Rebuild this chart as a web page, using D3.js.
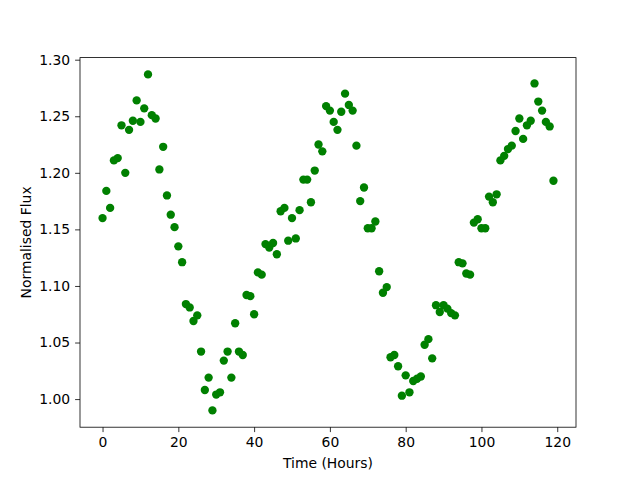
<!DOCTYPE html>
<html>
<head>
<meta charset="utf-8">
<script src="https://cdn.jsdelivr.net/npm/d3@7"></script>
<style>
  body { margin: 0; background: #fff; }
  svg text { font-family: "DejaVu Sans", sans-serif; font-size: 13.9px; fill: #000; }
</style>
</head>
<body>
<script>
// light curve readings, one per hour
const hours = d3.range(0, 120);
const flux = [
  1.160, 1.184, 1.169, 1.211, 1.213, 1.242, 1.200, 1.238, 1.246, 1.264,
  1.245, 1.257, 1.287, 1.251, 1.248, 1.203, 1.223, 1.180, 1.163, 1.152,
  1.135, 1.121, 1.084, 1.081, 1.069, 1.074, 1.042, 1.008, 1.019, 0.990,
  1.004, 1.006, 1.034, 1.042, 1.019, 1.067, 1.042, 1.039, 1.092, 1.091,
  1.075, 1.112, 1.110, 1.137, 1.134, 1.138, 1.128, 1.166, 1.169, 1.140,
  1.160, 1.142, 1.167, 1.194, 1.194, 1.174, 1.202, 1.225, 1.219, 1.259,
  1.255, 1.245, 1.238, 1.254, 1.270, 1.260, 1.255, 1.224, 1.175, 1.187,
  1.151, 1.151, 1.157, 1.113, 1.094, 1.099, 1.037, 1.039, 1.029, 1.003,
  1.021, 1.006, 1.016, 1.018, 1.020, 1.048, 1.053, 1.036, 1.083, 1.077,
  1.083, 1.080, 1.076, 1.074, 1.121, 1.120, 1.111, 1.110, 1.156, 1.159,
  1.151, 1.151, 1.179, 1.174, 1.181, 1.211, 1.215, 1.221, 1.224, 1.237,
  1.248, 1.230, 1.242, 1.246, 1.279, 1.263, 1.255, 1.245, 1.241, 1.193
];
const xTicks = [0, 20, 40, 60, 80, 100, 120];
const yTicks = [1.00, 1.05, 1.10, 1.15, 1.20, 1.25, 1.30];

const margin = {top: 57.6, left: 80, bottom: 52.8, right: 64};
const width = 640 - margin.left - margin.right;
const height = 480 - margin.top - margin.bottom;

const svg = d3.select("body").append("svg")
    .attr("width", 640)
    .attr("height", 480)
  .append("g")
    .attr("transform", `translate(${margin.left}, ${margin.top})`);

// matplotlib style 5% padding around the data
const xPad = (d3.max(hours) - d3.min(hours)) * 0.05;
const yPad = (d3.max(flux) - d3.min(flux)) * 0.05;

const x = d3.scaleLinear()
    .domain([d3.min(hours) - xPad, d3.max(hours) + xPad])
    .range([0, width]);
const y = d3.scaleLinear()
    .domain([d3.min(flux) - yPad, d3.max(flux) + yPad])
    .range([height, 0]);

// points
svg.selectAll("circle")
  .data(hours)
  .enter()
  .append("circle")
    .attr("cx", d => x(d))
    .attr("cy", (d, i) => y(flux[i]))
    .attr("r", 4.17)
    .attr("fill", "#008000");

// axes
const xAxis = svg.append("g")
    .attr("transform", `translate(0, ${height})`)
    .call(d3.axisBottom(x).tickValues(xTicks).tickSize(4.9).tickPadding(4.9));
const yAxis = svg.append("g")
    .call(d3.axisLeft(y).tickValues(yTicks).tickFormat(d3.format(".2f")).tickSize(4.9).tickPadding(4.9));

[xAxis, yAxis].forEach(a => {
  a.select(".domain").remove();
  a.selectAll("line").attr("stroke", "#000").attr("stroke-width", 0.8);
  a.selectAll("text").attr("font-size", "13.9px").attr("font-family", "DejaVu Sans, sans-serif");
});

// frame
svg.append("rect")
    .attr("width", width)
    .attr("height", height)
    .attr("fill", "none")
    .attr("stroke", "#000")
    .attr("stroke-width", 0.8);

// labels
svg.append("text")
    .attr("x", width / 2)
    .attr("y", height + 41)
    .attr("text-anchor", "middle")
    .text("Time (Hours)");

svg.append("text")
    .attr("transform", `translate(${-49}, ${height / 2}) rotate(-90)`)
    .attr("text-anchor", "middle")
    .text("Normalised Flux");
</script>
</body>
</html>
